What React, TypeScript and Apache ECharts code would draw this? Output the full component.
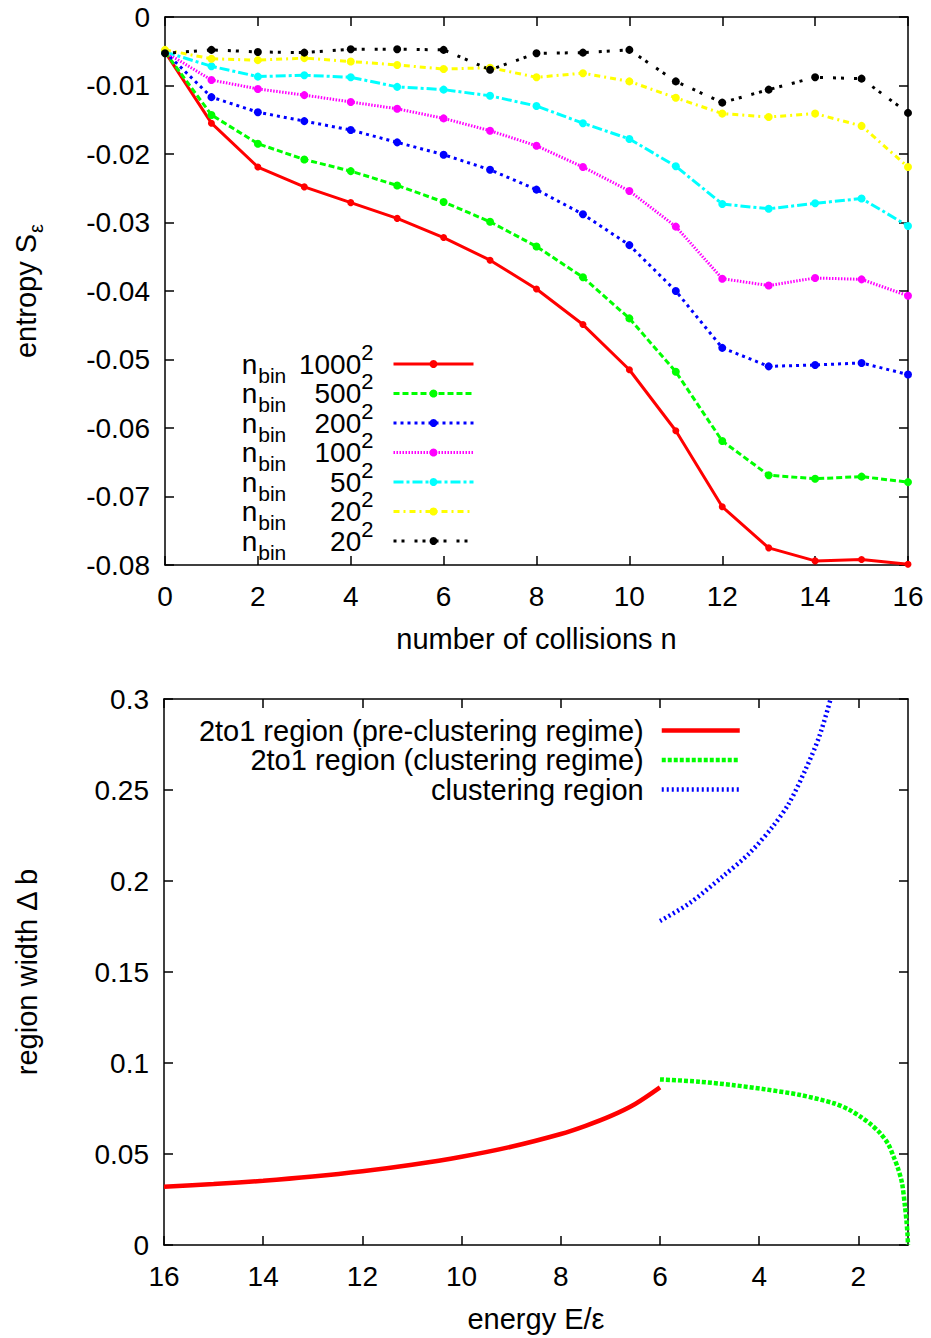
import React, { useEffect, useRef } from 'react';
import * as echarts from 'echarts';

// ---------- Top chart data ----------
const collisions = [0, 1, 2, 3, 4, 5, 6, 7, 8, 9, 10, 11, 12, 13, 14, 15, 16];
const s1000 = [-0.0051, -0.0155, -0.0219, -0.0248, -0.0271, -0.0294, -0.0322, -0.0355, -0.0397, -0.0449, -0.0515, -0.0604, -0.0715, -0.0775, -0.0794, -0.0792, -0.0799];
const s500 = [-0.0051, -0.0143, -0.0185, -0.0208, -0.0225, -0.0246, -0.0270, -0.0299, -0.0335, -0.0380, -0.0440, -0.0518, -0.0619, -0.0669, -0.0674, -0.0671, -0.0679];
const s200 = [-0.0051, -0.0117, -0.0139, -0.0152, -0.0165, -0.0183, -0.0201, -0.0223, -0.0252, -0.0288, -0.0333, -0.0400, -0.0483, -0.0510, -0.0508, -0.0505, -0.0522];
const s100 = [-0.0051, -0.0092, -0.0105, -0.0114, -0.0124, -0.0134, -0.0148, -0.0166, -0.0188, -0.0219, -0.0254, -0.0306, -0.0382, -0.0392, -0.0381, -0.0383, -0.0407];
const s50 = [-0.0051, -0.0072, -0.0087, -0.0085, -0.0088, -0.0102, -0.0106, -0.0115, -0.0130, -0.0155, -0.0178, -0.0218, -0.0273, -0.0280, -0.0272, -0.0265, -0.0305];
const s20a = [-0.0048, -0.0061, -0.0063, -0.0060, -0.0065, -0.0070, -0.0076, -0.0074, -0.0088, -0.0082, -0.0094, -0.0118, -0.0141, -0.0146, -0.0141, -0.0159, -0.0219];
const s20b = [-0.0053, -0.0048, -0.0051, -0.0052, -0.0047, -0.0047, -0.0048, -0.0077, -0.0053, -0.0052, -0.0048, -0.0094, -0.0125, -0.0106, -0.0088, -0.0090, -0.0140];

const topNames = ['s1000', 's500', 's200', 's100', 's50', 's20a', 's20b'];
const topBins = ['1000', '500', '200', '100', '50', '20', '20'];
const topValues = [s1000, s500, s200, s100, s50, s20a, s20b];
const topColors = ['#ff0000', '#00ff00', '#0000ff', '#ff00ff', '#00ffff', '#ffff00', '#000000'];
const topDashes: any[] = ['solid', [6, 3], [3, 4], [1.5, 1.5], [10, 3, 3, 3], [6, 4, 2, 4], [3, 5, 3, 10]];

// ---------- Bottom chart data ----------
const preE = [16, 15, 14, 13, 12, 11, 10, 9, 8, 7.5, 7, 6.5, 6.0];
const preDb = [0.0320, 0.0335, 0.0353, 0.0376, 0.0405, 0.0441, 0.0485, 0.0540, 0.0610, 0.0655, 0.0708, 0.0775, 0.0866];
const clE = [6.0, 5.21, 4.54, 3.87, 3.17, 2.5, 2.2, 1.96, 1.75, 1.56, 1.4, 1.29, 1.2, 1.12, 1.06, 1.03, 1.01, 1.0];
const clDb = [0.0910, 0.0897, 0.0879, 0.0855, 0.0824, 0.0779, 0.0745, 0.0705, 0.0663, 0.0614, 0.0555, 0.0485, 0.0420, 0.0339, 0.0210, 0.0130, 0.0060, 0.0];
const crE = [6.0, 5.41, 4.74, 4.2, 3.73, 3.40, 3.07, 2.79, 2.56];
const crDb = [0.178, 0.1877, 0.2024, 0.2152, 0.2298, 0.2427, 0.261, 0.2793, 0.3];
const bottomNames = ['2to1 region (pre-clustering regime)', '2to1 region (clustering regime)', 'clustering region'];
const energyTicks = [2, 4, 6, 8, 10, 12, 14, 16];

const FONT = 'Liberation Sans, Arial, Helvetica, sans-serif';
const axisLineStyle = { color: '#000', width: 1.5 };
const TICK_FS = 28;
const NAME_FS = 29;

function frameAxis(extra: any) {
  return {
    type: 'value',
    splitLine: { show: false },
    axisLine: { show: true, onZero: false, lineStyle: axisLineStyle },
    axisTick: { show: true, inside: true, length: 9, lineStyle: axisLineStyle },
    axisLabel: { show: true, color: '#000', fontSize: TICK_FS, fontFamily: FONT },
    nameTextStyle: { color: '#000', fontSize: NAME_FS, fontFamily: FONT },
    ...extra,
  };
}

export default function App() {
  const ref = useRef<HTMLDivElement>(null);
  useEffect(() => {
    document.body.style.margin = '0';
    const chart = echarts.init(ref.current!, null, { renderer: 'svg' });

    const topSeries = topNames.map((nm, i) => ({
      name: nm,
      type: 'line',
      xAxisIndex: 0,
      yAxisIndex: 0,
      data: collisions.map((c, j) => [c, topValues[i][j]]),
      symbol: 'circle',
      symbolSize: i === 0 ? 7 : 8,
      lineStyle: { color: topColors[i], width: 3, type: topDashes[i] },
      itemStyle: { color: topColors[i] },
    }));

    const bottomData = [
      preE.map((e, j) => [e, preDb[j]]),
      clE.map((e, j) => [e, clDb[j]]),
      crE.map((e, j) => [e, crDb[j]]),
    ];
    const bottomColors = ['#ff0000', '#00ff00', '#0000ff'];
    const bottomDashes: any[] = ['solid', [4, 2], [2, 3]];
    const bottomSeries = bottomNames.map((nm, i) => ({
      name: nm,
      type: 'line',
      xAxisIndex: 2,
      yAxisIndex: 2,
      data: bottomData[i],
      symbol: 'none',
      smooth: 0.3,
      lineStyle: { color: bottomColors[i], width: 4.5, type: bottomDashes[i] },
      itemStyle: { color: bottomColors[i] },
    }));

    const option: any = {
      animation: false,
      textStyle: { fontFamily: FONT, color: '#000' },
      grid: [
        { left: 165, top: 17, width: 743, height: 548, outerBoundsMode: 'none' },
        { left: 164, top: 699, width: 744, height: 546, outerBoundsMode: 'none' },
      ],
      xAxis: [
        frameAxis({
          gridIndex: 0, position: 'bottom', min: 0, max: 16, interval: 2,
          axisLabel: { color: '#000', fontSize: TICK_FS, fontFamily: FONT, margin: 17 },
          name: 'number of collisions n', nameLocation: 'middle', nameGap: 59,
        }),
        frameAxis({
          gridIndex: 0, position: 'top', min: 0, max: 16, interval: 2,
          axisLabel: { show: false },
        }),
        frameAxis({
          gridIndex: 1, position: 'bottom', min: 1, max: 16, inverse: true,
          axisTick: { show: true, inside: true, length: 9, lineStyle: axisLineStyle, customValues: energyTicks },
          axisLabel: { color: '#000', fontSize: TICK_FS, fontFamily: FONT, margin: 17, customValues: energyTicks },
          name: 'energy E/ε', nameLocation: 'middle', nameGap: 59,
        }),
        frameAxis({
          gridIndex: 1, position: 'top', min: 1, max: 16, inverse: true,
          axisTick: { show: true, inside: true, length: 9, lineStyle: axisLineStyle, customValues: energyTicks },
          axisLabel: { show: false },
        }),
      ],
      yAxis: [
        frameAxis({
          gridIndex: 0, position: 'left', min: -0.08, max: 0, interval: 0.01,
          axisLabel: {
            color: '#000', fontSize: TICK_FS, fontFamily: FONT, margin: 15,
            formatter: (v: number) => (Math.abs(v) < 1e-9 ? '0' : v.toFixed(2)),
          },
          name: '{a|entropy S}{b|ε}', nameLocation: 'middle', nameGap: 123,
          nameTextStyle: {
            color: '#000', fontFamily: FONT,
            rich: {
              a: { fontSize: NAME_FS, fontFamily: FONT, color: '#000', lineHeight: 32 },
              b: { fontSize: 20, fontFamily: FONT, color: '#000', lineHeight: 6, padding: [20, 0, 0, 1] },
            },
          },
        }),
        frameAxis({
          gridIndex: 0, position: 'right', min: -0.08, max: 0, interval: 0.01,
          axisLabel: { show: false },
        }),
        frameAxis({
          gridIndex: 1, position: 'left', min: 0, max: 0.3, interval: 0.05,
          axisLabel: {
            color: '#000', fontSize: TICK_FS, fontFamily: FONT, margin: 15,
            formatter: (v: number) => String(+v.toFixed(2)),
          },
          name: 'region width Δ b', nameLocation: 'middle', nameGap: 123,
        }),
        frameAxis({
          gridIndex: 1, position: 'right', min: 0, max: 0.3, interval: 0.05,
          axisLabel: { show: false },
        }),
      ],
      legend: [
        {
          data: topNames,
          orient: 'vertical',
          align: 'right',
          right: 456,
          top: 341,
          padding: 0,
          itemGap: -16.5,
          itemWidth: 80,
          itemHeight: 10,
          lineStyle: { width: 3 },
          selectedMode: false,
          formatter: (nm: string) => {
            const idx = topNames.indexOf(nm);
            return `{n|n}{sub|bin}{num|${topBins[idx]}}{sup|2}`;
          },
          textStyle: {
            color: '#000', fontFamily: FONT,
            rich: {
              n: { fontSize: 28, fontFamily: FONT, color: '#000', lineHeight: 29 },
              sub: { fontSize: 21, fontFamily: FONT, color: '#000', lineHeight: 7, padding: [22, 0, 0, 1] },
              num: { fontSize: 28, fontFamily: FONT, color: '#000', lineHeight: 29, width: 75, align: 'right' },
              sup: { fontSize: 22, fontFamily: FONT, color: '#000', lineHeight: 5, padding: [0, 15, 24, 0], align: 'right' },
            },
          },
        },
        {
          data: bottomNames,
          orient: 'vertical',
          align: 'right',
          right: 189,
          top: 716,
          padding: 0,
          itemGap: 0.5,
          itemWidth: 78,
          itemHeight: 10,
          lineStyle: { width: 4.5 },
          itemStyle: { opacity: 0 },
          selectedMode: false,
          formatter: (nm: string) => `{t|${nm}}`,
          textStyle: {
            color: '#000', fontFamily: FONT,
            rich: {
              t: { fontSize: 29, fontFamily: FONT, color: '#000', lineHeight: 29, padding: [0, 13, 0, 0] },
            },
          },
        },
      ],
      series: [...topSeries, ...bottomSeries],
    };

    chart.setOption(option);
    return () => chart.dispose();
  }, []);
  return <div ref={ref} style={{ width: 931, height: 1338 }} />;
}
